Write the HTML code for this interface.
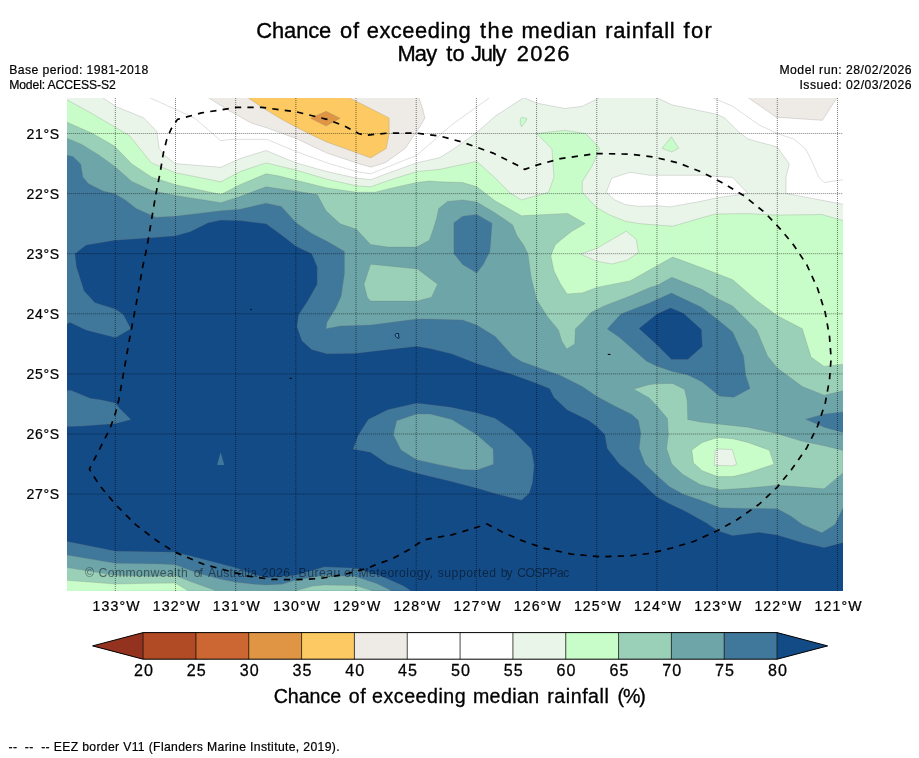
<!DOCTYPE html>
<html><head><meta charset="utf-8"><title>Chance of exceeding the median rainfall</title>
<style>
html,body{margin:0;padding:0;background:#fff;}
body{width:919px;height:758px;overflow:hidden;font-family:"Liberation Sans",sans-serif;}
svg{display:block;}
svg text{font-family:"Liberation Sans",sans-serif;}
</style></head><body>
<svg width="919" height="758" viewBox="0 0 919 758">
<rect width="919" height="758" fill="#fff"/>
<defs><clipPath id="mc"><rect x="67.0" y="98.0" width="776.0" height="493.0"/></clipPath></defs>
<g clip-path="url(#mc)" shape-rendering="geometricPrecision">
<rect x="67.0" y="98.0" width="776.0" height="493.0" fill="#134b87"/>
<polygon points="67.0,98.0 843.0,98.0 843.0,542.5 824.1,547.6 802.3,542.5 777.3,534.9 758.8,532.3 732.7,535.4 717.5,530.6 706.6,523.0 689.2,513.2 682.9,510.0 669.2,503.5 656.7,496.7 638.3,479.5 619.5,464.1 607.4,448.6 604.9,434.6 596.6,426.3 588.6,420.3 580.0,416.0 567.1,409.8 554.0,397.3 549.7,388.6 536.6,383.2 512.7,374.5 476.8,363.6 451.8,353.8 430.0,348.4 416.7,346.2 388.0,349.5 356.4,353.2 327.0,353.8 311.8,349.5 302.0,340.8 297.0,326.6 298.8,314.6 307.5,301.6 317.3,284.2 317.3,266.8 311.8,253.7 296.1,246.3 281.3,234.7 266.1,223.8 240.0,220.6 221.0,220.1 208.0,222.8 190.6,231.5 175.3,235.8 147.0,238.0 114.4,240.2 86.1,245.0 74.8,253.7 76.3,266.8 83.9,290.7 94.8,302.7 115.5,309.2 123.1,314.6 130.7,328.8 115.5,337.5 86.1,329.9 69.8,322.3 67.0,324.0" fill="#40789b"/>
<polygon points="67.0,390.4 70.9,390.4 90.5,398.4 101.3,400.0 115.5,403.3 119.8,408.7 130.7,419.6 115.5,423.5 81.8,426.1 67.0,426.5" fill="#40789b"/>
<polygon points="67.0,541.5 115.5,551.3 175.2,552.3 198.1,558.0 220.9,564.0 236.2,567.9 254.5,574.7 266.6,577.8 295.8,575.3 324.5,567.0 355.6,568.2 382.0,576.5 403.5,586.1 410.7,590.8 67.0,591.0" fill="#40789b"/>
<polygon points="353.2,449.0 358.6,434.8 368.4,419.6 388.0,409.8 416.7,403.3 430.0,404.8 451.8,407.6 476.8,413.1 495.3,418.5 512.7,430.5 531.2,449.0 534.0,465.3 532.3,482.7 529.0,493.6 521.4,500.1 495.3,493.6 476.8,488.1 451.8,481.6 430.0,476.2 416.7,472.9 388.0,464.2 370.6,452.2" fill="#40789b"/>
<polygon points="220.6,452.2 217.1,464.9 224.3,464.9" fill="#40789b"/>
<polygon points="67.0,98.0 843.0,98.0 843.0,507.7 835.0,524.5 821.9,532.8 802.3,524.5 791.5,516.4 777.3,508.8 747.9,508.4 720.0,507.8 700.1,500.1 682.9,494.1 669.2,486.4 656.7,475.2 645.2,464.1 639.2,448.6 640.9,433.2 638.3,420.3 631.5,414.3 614.3,405.7 596.6,396.3 582.3,386.5 560.6,375.6 536.6,366.9 521.4,361.4 512.7,356.0 495.3,336.4 476.8,325.1 462.6,320.1 430.0,319.0 416.7,319.0 370.6,325.1 340.1,326.0 326.0,328.8 327.0,322.3 335.8,308.1 341.2,296.1 344.5,273.3 344.5,251.5 333.6,245.0 327.0,241.3 311.8,233.6 296.1,222.8 281.3,206.4 266.1,203.2 240.0,209.3 221.0,210.8 175.3,216.2 155.8,217.3 136.2,208.6 125.3,199.9 114.4,193.4 103.5,191.2 88.3,183.6 82.9,177.0 80.7,164.0 73.0,156.4 67.0,155.3" fill="#6da5a8"/>
<polygon points="67.0,555.0 115.5,563.3 160.0,564.0 175.2,564.8 198.1,573.2 220.9,579.3 236.2,582.3 254.5,584.3 266.6,584.9 281.9,584.3 295.8,580.1 324.5,575.3 355.6,576.5 377.2,583.7 391.5,590.8 67.0,591.0" fill="#6da5a8"/>
<polygon points="396.7,420.7 416.7,414.1 430.0,414.1 451.8,419.6 476.8,434.8 493.1,449.0 493.5,464.2 476.8,470.1 462.6,469.6 440.0,464.9 416.7,459.8 401.0,450.1 393.4,434.8" fill="#6da5a8"/>
<polygon points="453.9,222.8 462.6,216.2 476.8,214.5 492.0,223.2 490.5,245.0 489.8,251.5 483.3,264.6 476.8,272.9 462.6,264.6 453.9,253.7" fill="#40789b"/>
<polygon points="607.2,329.1 620.9,314.0 650.0,302.7 656.9,299.4 671.5,293.1 701.5,307.2 717.3,319.2 732.7,332.1 743.6,356.0 745.8,375.6 750.1,388.6 733.8,397.3 719.6,396.2 702.2,382.1 687.8,374.9 672.3,371.5 656.9,366.3 646.6,361.2 632.9,349.2 619.2,337.2" fill="#40789b"/>
<polygon points="843.0,412.0 824.1,414.1 805.6,419.2 824.1,427.2 843.0,432.6" fill="#40789b"/>
<polygon points="638.9,328.6 656.9,314.0 670.6,307.7 683.5,313.2 701.5,329.5 702.4,346.6 687.8,359.5 671.5,359.5 656.9,344.9" fill="#134b87"/>
<polygon points="67.0,98.0 843.0,98.0 843.0,390.8 824.1,395.2 802.3,386.5 777.3,368.0 767.5,356.0 756.6,329.9 732.7,305.9 717.3,298.6 702.2,289.6 671.8,277.2 657.5,285.3 650.0,287.4 630.0,296.1 604.1,305.9 591.0,312.5 582.3,322.3 575.4,328.8 574.7,344.0 566.7,349.0 561.7,340.8 558.4,329.9 547.5,316.8 536.6,299.4 531.2,277.6 527.9,253.7 523.6,245.0 517.0,235.8 512.7,224.9 495.3,213.0 476.8,202.1 462.6,199.9 447.4,201.4 438.7,208.6 436.5,218.4 433.0,230.0 429.3,240.2 416.7,247.1 388.0,247.1 370.6,244.5 356.4,229.3 340.1,223.8 326.0,210.8 317.3,194.5 296.1,191.2 266.1,186.8 240.0,196.6 221.0,202.7 175.3,195.5 151.4,190.5 131.8,181.4 114.4,166.2 99.2,155.3 81.8,144.4 67.0,138.3" fill="#9ad0b8"/>
<polygon points="67.0,567.6 115.5,575.3 151.4,576.3 175.2,575.5 190.5,581.6 216.4,590.8 67.0,591.0" fill="#9ad0b8"/>
<polygon points="295.8,590.8 312.5,586.1 324.5,584.9 355.6,585.6 372.4,590.8" fill="#9ad0b8"/>
<polygon points="370.6,264.2 417.4,268.9 437.6,284.2 431.5,297.2 417.4,301.1 370.6,301.1 367.3,297.2 364.0,284.2" fill="#9ad0b8"/>
<polygon points="634.0,388.9 648.6,384.8 656.7,383.8 672.6,383.4 684.6,389.4 687.2,400.6 687.7,419.5 700.1,422.0 717.5,423.9 747.9,427.2 777.3,433.7 802.3,441.3 824.1,445.7 843.0,450.5 843.0,472.9 824.1,488.8 802.3,487.1 777.3,485.3 747.9,488.1 720.0,489.8 700.1,484.6 682.9,474.4 671.8,464.1 666.6,448.6 668.4,434.9 667.5,418.6 656.7,405.7 648.6,397.2" fill="#9ad0b8"/>
<polygon points="67.0,98.0 843.0,98.0 843.0,364.3 824.1,366.4 811.0,357.1 802.3,328.8 777.3,315.7 756.6,300.5 732.7,279.8 702.2,267.9 672.7,257.1 657.5,265.5 630.0,280.9 596.7,287.4 582.3,292.9 567.1,294.0 560.6,284.2 554.0,271.1 550.8,255.9 555.1,245.0 560.6,240.2 571.5,231.5 585.1,223.6 567.6,213.4 521.4,215.8 495.3,201.0 476.8,186.8 462.6,182.5 440.0,181.8 429.3,181.0 416.7,182.5 392.3,187.9 375.0,192.3 356.4,192.3 327.0,187.9 296.1,180.3 279.2,176.0 266.1,173.8 240.0,184.7 221.0,194.5 175.3,184.7 151.4,177.0 131.8,164.0 114.4,146.1 92.6,133.5 67.0,122.2" fill="#c8fcc8"/>
<polygon points="67.0,580.3 115.5,584.0 147.0,583.3 175.2,583.1 188.2,590.8 67.0,591.0" fill="#c8fcc8"/>
<polygon points="691.8,450.1 702.2,442.4 717.5,437.4 732.7,438.7 747.9,442.4 769.3,450.1 774.0,464.2 747.9,472.9 732.7,476.6 717.5,476.6 702.2,470.7 693.5,463.1" fill="#c8fcc8"/>
<polygon points="67.0,98.0 843.0,98.0 843.0,220.6 821.9,214.5 777.3,215.1 747.9,213.6 715.3,214.0 700.0,218.3 672.7,226.2 657.5,225.1 639.2,223.6 625.5,221.3 610.3,215.2 596.6,207.6 582.3,192.3 582.3,181.4 592.1,166.2 599.8,148.3 585.6,133.5 564.9,130.3 536.6,133.5 551.9,148.8 554.0,177.0 548.6,192.3 521.4,199.9 510.5,193.4 493.1,176.0 476.8,161.4 440.0,169.3 416.7,171.6 392.3,179.2 370.6,186.8 356.4,185.8 327.0,179.2 296.1,170.1 266.1,162.9 240.0,171.6 221.0,181.8 175.3,172.7 151.4,162.9 129.6,135.7 92.6,113.9 67.0,99.8" fill="#eaf5ea"/>
<polygon points="715.3,450.5 719.2,449.0 732.3,449.6 736.6,464.2 732.7,465.9 714.2,465.3" fill="#eaf5ea"/>
<polygon points="580.6,254.1 596.6,248.4 626.3,231.2 636.2,239.3 638.5,252.6 627.0,260.2 611.8,264.0 596.6,261.2" fill="#eaf5ea"/>
<polygon points="520.3,118.6 521.9,117.3 526.8,118.3 526.5,120.3 521.6,126.8 520.3,124.5" fill="#c8fcc8"/>
<polygon points="671.3,136.8 662.0,148.3 671.8,152.0 678.7,148.3" fill="#c8fcc8"/>
<polygon points="102.4,97.5 115.5,106.3 143.8,117.9 156.8,131.3 159.0,147.7 164.5,155.3 175.3,163.6 221.0,167.3 240.0,158.6 266.1,150.5 296.1,162.9 327.0,171.6 356.4,178.1 370.6,179.7 392.3,171.6 416.7,162.9 440.0,157.5 453.9,148.8 476.8,132.4 495.3,116.1 521.4,99.1 523.6,97.5" fill="#fff"/>
<polygon points="523.6,97.5 536.6,103.1 564.9,108.5 582.3,106.3 596.7,99.1 599.8,97.5" fill="#fff"/>
<polygon points="606.3,192.3 611.7,178.1 630.0,172.3 650.0,175.3 702.2,175.3 732.7,177.5 747.9,193.4 717.5,197.7 700.0,201.5 669.7,206.9 657.5,205.8 639.2,206.4 625.5,204.6 614.8,200.0" fill="#fff"/>
<polygon points="656.5,97.5 671.8,104.8 717.5,114.4 725.1,118.3 739.2,132.4 747.9,139.0 777.3,147.0 789.3,164.0 786.0,177.0 786.0,193.4 843.0,204.3 843.0,98.0" fill="#fff"/>
<polygon points="208.0,97.5 229.2,110.7 251.4,123.1 268.3,128.3 296.1,138.5 327.0,153.1 356.4,162.9 371.0,167.2 385.7,162.5 405.3,148.3 411.8,138.5 420.0,126.6 424.9,117.9 422.7,109.1 418.9,97.5" fill="#eeebe6"/>
<polygon points="747.9,97.5 776.2,117.2 822.4,120.3 837.0,97.5" fill="#eeebe6"/>
<polygon points="247.5,97.5 263.1,108.1 281.4,119.2 295.8,127.0 310.0,134.2 327.0,142.2 357.5,153.1 370.6,157.9 386.3,148.5 389.2,133.0 389.1,117.9 370.6,108.5 348.8,97.5" fill="#fdc962"/>
<polygon points="310.7,118.3 326.0,111.3 340.1,118.3 326.0,125.9" fill="#e09545"/>
<g fill="none" stroke="#707070" stroke-width="0.6" stroke-opacity="0.38" stroke-linejoin="round">
<polyline points="843.0,542.5 824.1,547.6 802.3,542.5 777.3,534.9 758.8,532.3 732.7,535.4 717.5,530.6 706.6,523.0 689.2,513.2 682.9,510.0 669.2,503.5 656.7,496.7 638.3,479.5 619.5,464.1 607.4,448.6 604.9,434.6 596.6,426.3 588.6,420.3 580.0,416.0 567.1,409.8 554.0,397.3 549.7,388.6 536.6,383.2 512.7,374.5 476.8,363.6 451.8,353.8 430.0,348.4 416.7,346.2 388.0,349.5 356.4,353.2 327.0,353.8 311.8,349.5 302.0,340.8 297.0,326.6 298.8,314.6 307.5,301.6 317.3,284.2 317.3,266.8 311.8,253.7 296.1,246.3 281.3,234.7 266.1,223.8 240.0,220.6 221.0,220.1 208.0,222.8 190.6,231.5 175.3,235.8 147.0,238.0 114.4,240.2 86.1,245.0 74.8,253.7 76.3,266.8 83.9,290.7 94.8,302.7 115.5,309.2 123.1,314.6 130.7,328.8 115.5,337.5 86.1,329.9 69.8,322.3 67.0,324.0"/>
<polyline points="67.0,390.4 70.9,390.4 90.5,398.4 101.3,400.0 115.5,403.3 119.8,408.7 130.7,419.6 115.5,423.5 81.8,426.1 67.0,426.5"/>
<polyline points="67.0,541.5 115.5,551.3 175.2,552.3 198.1,558.0 220.9,564.0 236.2,567.9 254.5,574.7 266.6,577.8 295.8,575.3 324.5,567.0 355.6,568.2 382.0,576.5 403.5,586.1 410.7,590.8"/>
<polygon points="353.2,449.0 358.6,434.8 368.4,419.6 388.0,409.8 416.7,403.3 430.0,404.8 451.8,407.6 476.8,413.1 495.3,418.5 512.7,430.5 531.2,449.0 534.0,465.3 532.3,482.7 529.0,493.6 521.4,500.1 495.3,493.6 476.8,488.1 451.8,481.6 430.0,476.2 416.7,472.9 388.0,464.2 370.6,452.2"/>
<polyline points="843.0,507.7 835.0,524.5 821.9,532.8 802.3,524.5 791.5,516.4 777.3,508.8 747.9,508.4 720.0,507.8 700.1,500.1 682.9,494.1 669.2,486.4 656.7,475.2 645.2,464.1 639.2,448.6 640.9,433.2 638.3,420.3 631.5,414.3 614.3,405.7 596.6,396.3 582.3,386.5 560.6,375.6 536.6,366.9 521.4,361.4 512.7,356.0 495.3,336.4 476.8,325.1 462.6,320.1 430.0,319.0 416.7,319.0 370.6,325.1 340.1,326.0 326.0,328.8 327.0,322.3 335.8,308.1 341.2,296.1 344.5,273.3 344.5,251.5 333.6,245.0 327.0,241.3 311.8,233.6 296.1,222.8 281.3,206.4 266.1,203.2 240.0,209.3 221.0,210.8 175.3,216.2 155.8,217.3 136.2,208.6 125.3,199.9 114.4,193.4 103.5,191.2 88.3,183.6 82.9,177.0 80.7,164.0 73.0,156.4 67.0,155.3"/>
<polyline points="67.0,555.0 115.5,563.3 160.0,564.0 175.2,564.8 198.1,573.2 220.9,579.3 236.2,582.3 254.5,584.3 266.6,584.9 281.9,584.3 295.8,580.1 324.5,575.3 355.6,576.5 377.2,583.7 391.5,590.8"/>
<polygon points="396.7,420.7 416.7,414.1 430.0,414.1 451.8,419.6 476.8,434.8 493.1,449.0 493.5,464.2 476.8,470.1 462.6,469.6 440.0,464.9 416.7,459.8 401.0,450.1 393.4,434.8"/>
<polygon points="453.9,222.8 462.6,216.2 476.8,214.5 492.0,223.2 490.5,245.0 489.8,251.5 483.3,264.6 476.8,272.9 462.6,264.6 453.9,253.7"/>
<polygon points="607.2,329.1 620.9,314.0 650.0,302.7 656.9,299.4 671.5,293.1 701.5,307.2 717.3,319.2 732.7,332.1 743.6,356.0 745.8,375.6 750.1,388.6 733.8,397.3 719.6,396.2 702.2,382.1 687.8,374.9 672.3,371.5 656.9,366.3 646.6,361.2 632.9,349.2 619.2,337.2"/>
<polyline points="843.0,412.0 824.1,414.1 805.6,419.2 824.1,427.2 843.0,432.6"/>
<polygon points="638.9,328.6 656.9,314.0 670.6,307.7 683.5,313.2 701.5,329.5 702.4,346.6 687.8,359.5 671.5,359.5 656.9,344.9"/>
<polyline points="843.0,390.8 824.1,395.2 802.3,386.5 777.3,368.0 767.5,356.0 756.6,329.9 732.7,305.9 717.3,298.6 702.2,289.6 671.8,277.2 657.5,285.3 650.0,287.4 630.0,296.1 604.1,305.9 591.0,312.5 582.3,322.3 575.4,328.8 574.7,344.0 566.7,349.0 561.7,340.8 558.4,329.9 547.5,316.8 536.6,299.4 531.2,277.6 527.9,253.7 523.6,245.0 517.0,235.8 512.7,224.9 495.3,213.0 476.8,202.1 462.6,199.9 447.4,201.4 438.7,208.6 436.5,218.4 433.0,230.0 429.3,240.2 416.7,247.1 388.0,247.1 370.6,244.5 356.4,229.3 340.1,223.8 326.0,210.8 317.3,194.5 296.1,191.2 266.1,186.8 240.0,196.6 221.0,202.7 175.3,195.5 151.4,190.5 131.8,181.4 114.4,166.2 99.2,155.3 81.8,144.4 67.0,138.3"/>
<polyline points="67.0,567.6 115.5,575.3 151.4,576.3 175.2,575.5 190.5,581.6 216.4,590.8"/>
<polyline points="295.8,590.8 312.5,586.1 324.5,584.9 355.6,585.6 372.4,590.8"/>
<polygon points="370.6,264.2 417.4,268.9 437.6,284.2 431.5,297.2 417.4,301.1 370.6,301.1 367.3,297.2 364.0,284.2"/>
<polyline points="634.0,388.9 648.6,384.8 656.7,383.8 672.6,383.4 684.6,389.4 687.2,400.6 687.7,419.5 700.1,422.0 717.5,423.9 747.9,427.2 777.3,433.7 802.3,441.3 824.1,445.7 843.0,450.5 843.0,472.9 824.1,488.8 802.3,487.1 777.3,485.3 747.9,488.1 720.0,489.8 700.1,484.6 682.9,474.4 671.8,464.1 666.6,448.6 668.4,434.9 667.5,418.6 656.7,405.7 648.6,397.2"/>
<polyline points="843.0,364.3 824.1,366.4 811.0,357.1 802.3,328.8 777.3,315.7 756.6,300.5 732.7,279.8 702.2,267.9 672.7,257.1 657.5,265.5 630.0,280.9 596.7,287.4 582.3,292.9 567.1,294.0 560.6,284.2 554.0,271.1 550.8,255.9 555.1,245.0 560.6,240.2 571.5,231.5 585.1,223.6 567.6,213.4 521.4,215.8 495.3,201.0 476.8,186.8 462.6,182.5 440.0,181.8 429.3,181.0 416.7,182.5 392.3,187.9 375.0,192.3 356.4,192.3 327.0,187.9 296.1,180.3 279.2,176.0 266.1,173.8 240.0,184.7 221.0,194.5 175.3,184.7 151.4,177.0 131.8,164.0 114.4,146.1 92.6,133.5 67.0,122.2"/>
<polyline points="67.0,580.3 115.5,584.0 147.0,583.3 175.2,583.1 188.2,590.8"/>
<polygon points="691.8,450.1 702.2,442.4 717.5,437.4 732.7,438.7 747.9,442.4 769.3,450.1 774.0,464.2 747.9,472.9 732.7,476.6 717.5,476.6 702.2,470.7 693.5,463.1"/>
<polyline points="843.0,220.6 821.9,214.5 777.3,215.1 747.9,213.6 715.3,214.0 700.0,218.3 672.7,226.2 657.5,225.1 639.2,223.6 625.5,221.3 610.3,215.2 596.6,207.6 582.3,192.3 582.3,181.4 592.1,166.2 599.8,148.3 585.6,133.5 564.9,130.3 536.6,133.5 551.9,148.8 554.0,177.0 548.6,192.3 521.4,199.9 510.5,193.4 493.1,176.0 476.8,161.4 440.0,169.3 416.7,171.6 392.3,179.2 370.6,186.8 356.4,185.8 327.0,179.2 296.1,170.1 266.1,162.9 240.0,171.6 221.0,181.8 175.3,172.7 151.4,162.9 129.6,135.7 92.6,113.9 67.0,99.8"/>
<polygon points="715.3,450.5 719.2,449.0 732.3,449.6 736.6,464.2 732.7,465.9 714.2,465.3"/>
<polygon points="580.6,254.1 596.6,248.4 626.3,231.2 636.2,239.3 638.5,252.6 627.0,260.2 611.8,264.0 596.6,261.2"/>
<polygon points="520.3,118.6 521.9,117.3 526.8,118.3 526.5,120.3 521.6,126.8 520.3,124.5"/>
<polygon points="671.3,136.8 662.0,148.3 671.8,152.0 678.7,148.3"/>
<polyline points="102.4,97.5 115.5,106.3 143.8,117.9 156.8,131.3 159.0,147.7 164.5,155.3 175.3,163.6 221.0,167.3 240.0,158.6 266.1,150.5 296.1,162.9 327.0,171.6 356.4,178.1 370.6,179.7 392.3,171.6 416.7,162.9 440.0,157.5 453.9,148.8 476.8,132.4 495.3,116.1 521.4,99.1 523.6,97.5"/>
<polyline points="523.6,97.5 536.6,103.1 564.9,108.5 582.3,106.3 596.7,99.1 599.8,97.5"/>
<polygon points="606.3,192.3 611.7,178.1 630.0,172.3 650.0,175.3 702.2,175.3 732.7,177.5 747.9,193.4 717.5,197.7 700.0,201.5 669.7,206.9 657.5,205.8 639.2,206.4 625.5,204.6 614.8,200.0"/>
<polyline points="656.5,97.5 671.8,104.8 717.5,114.4 725.1,118.3 739.2,132.4 747.9,139.0 777.3,147.0 789.3,164.0 786.0,177.0 786.0,193.4 843.0,204.3"/>
<polyline points="149.2,97.5 175.3,109.2 194.9,118.3 220.7,140.7 230.5,139.4 267.0,139.4 296.1,151.5 327.0,162.9 356.4,171.6 370.6,173.8 392.3,165.1 416.7,155.3 429.3,144.4 451.8,124.8 489.8,97.5"/>
<polyline points="712.0,97.5 732.7,106.3 758.8,124.8 777.3,133.5 793.6,139.0 805.6,148.8 813.2,164.0 818.7,177.0 824.1,182.5 843.0,179.7"/>
<polyline points="208.0,97.5 229.2,110.7 251.4,123.1 268.3,128.3 296.1,138.5 327.0,153.1 356.4,162.9 371.0,167.2 385.7,162.5 405.3,148.3 411.8,138.5 420.0,126.6 424.9,117.9 422.7,109.1 418.9,97.5"/>
<polyline points="747.9,97.5 776.2,117.2 822.4,120.3 837.0,97.5"/>
<polyline points="247.5,97.5 263.1,108.1 281.4,119.2 295.8,127.0 310.0,134.2 327.0,142.2 357.5,153.1 370.6,157.9 386.3,148.5 389.2,133.0 389.1,117.9 370.6,108.5 348.8,97.5"/>
<polygon points="310.7,118.3 326.0,111.3 340.1,118.3 326.0,125.9"/>
</g>
<g stroke="#000" stroke-opacity="0.5" stroke-width="1" stroke-dasharray="1 1" fill="none">
<line x1="115.32" y1="98.0" x2="115.32" y2="591.0"/>
<line x1="175.50" y1="98.0" x2="175.50" y2="591.0"/>
<line x1="235.68" y1="98.0" x2="235.68" y2="591.0"/>
<line x1="295.86" y1="98.0" x2="295.86" y2="591.0"/>
<line x1="356.04" y1="98.0" x2="356.04" y2="591.0"/>
<line x1="416.22" y1="98.0" x2="416.22" y2="591.0"/>
<line x1="476.40" y1="98.0" x2="476.40" y2="591.0"/>
<line x1="536.58" y1="98.0" x2="536.58" y2="591.0"/>
<line x1="596.76" y1="98.0" x2="596.76" y2="591.0"/>
<line x1="656.94" y1="98.0" x2="656.94" y2="591.0"/>
<line x1="717.12" y1="98.0" x2="717.12" y2="591.0"/>
<line x1="777.30" y1="98.0" x2="777.30" y2="591.0"/>
<line x1="837.48" y1="98.0" x2="837.48" y2="591.0"/>
</g>
<g stroke="#000" stroke-opacity="0.38" stroke-width="1" stroke-dasharray="1.3 0.7" fill="none">
<line x1="67.0" y1="133.50" x2="843.0" y2="133.50"/>
<line x1="67.0" y1="193.60" x2="843.0" y2="193.60"/>
<line x1="67.0" y1="253.70" x2="843.0" y2="253.70"/>
<line x1="67.0" y1="313.80" x2="843.0" y2="313.80"/>
<line x1="67.0" y1="373.90" x2="843.0" y2="373.90"/>
<line x1="67.0" y1="434.00" x2="843.0" y2="434.00"/>
<line x1="67.0" y1="494.10" x2="843.0" y2="494.10"/>
</g>
<rect x="250.3" y="308.9" width="1.4" height="1" fill="#000"/>
<rect x="289.6" y="377.8" width="2.2" height="1" fill="#000"/>
<rect x="607.8" y="353.9" width="2.6" height="1.1" fill="#000"/>
<path d="M395.2,334.4 L396.4,333.5 L398.6,333.5 L398.7,337 L399.3,337.8 L398.4,338.3 L396.5,337.3 L395.4,336.2 Z" fill="#4a8fba" stroke="#04162e" stroke-width="0.9" stroke-linejoin="round"/>
<polygon points="89.4,469.2 101.3,445.7 110.1,428.3 115.5,413.1 118.8,400.0 123.1,375.6 129.6,338.6 136.2,303.8 142.7,266.8 147.0,247.0 151.4,220.6 155.8,194.5 160.1,172.7 163.4,153.1 166.6,140.0 171.0,129.2 177.5,119.4 201.5,112.9 236.3,107.4 261.8,107.4 296.1,111.8 327.0,119.4 344.5,125.9 358.6,133.5 365.1,135.3 388.0,133.1 416.7,133.1 440.0,136.1 462.6,142.2 493.1,153.1 517.0,165.1 524.7,169.4 536.6,165.1 560.6,158.6 596.7,153.5 630.0,154.2 653.3,157.0 678.3,162.9 702.2,172.3 721.8,182.5 743.6,195.5 765.3,213.0 780.6,229.3 793.6,245.0 806.7,264.6 817.6,288.5 825.2,312.5 829.5,336.4 831.1,358.2 829.5,379.9 825.2,403.3 817.6,426.1 806.7,447.9 791.5,469.6 777.3,487.1 758.8,504.5 737.0,519.7 717.5,530.6 693.5,541.5 671.8,548.0 650.0,553.4 630.0,555.8 599.8,556.7 571.5,554.1 543.2,548.0 521.4,540.4 501.8,531.7 487.0,524.0 476.8,527.3 451.8,534.9 430.0,538.6 422.8,540.4 409.8,549.1 392.3,558.9 374.9,565.0 367.6,568.2 343.6,574.6 319.7,578.5 295.8,579.7 271.8,579.4 247.9,576.1 223.9,569.8 203.6,564.3 175.3,552.3 157.9,541.5 136.2,525.1 115.5,504.5 99.2,484.9" fill="none" stroke="#000" stroke-width="1.7" stroke-dasharray="6.3 6.2" stroke-dashoffset="3" stroke-linejoin="round"/>
</g>
<g>
<rect x="143.10" y="632.6" width="53.13" height="26.6" fill="#b04b26"/>
<rect x="195.93" y="632.6" width="53.13" height="26.6" fill="#cc6633"/>
<rect x="248.76" y="632.6" width="53.13" height="26.6" fill="#e09545"/>
<rect x="301.59" y="632.6" width="53.13" height="26.6" fill="#fdc962"/>
<rect x="354.42" y="632.6" width="53.13" height="26.6" fill="#eeebe6"/>
<rect x="407.25" y="632.6" width="53.13" height="26.6" fill="#ffffff"/>
<rect x="460.08" y="632.6" width="53.13" height="26.6" fill="#ffffff"/>
<rect x="512.91" y="632.6" width="53.13" height="26.6" fill="#eaf5ea"/>
<rect x="565.74" y="632.6" width="53.13" height="26.6" fill="#c8fcc8"/>
<rect x="618.57" y="632.6" width="53.13" height="26.6" fill="#9ad0b8"/>
<rect x="671.40" y="632.6" width="53.13" height="26.6" fill="#6da5a8"/>
<rect x="724.23" y="632.6" width="53.13" height="26.6" fill="#40789b"/>
<polygon points="143.1,632.6 92.6,645.9 143.1,659.2" fill="#93331f"/>
<polygon points="777.1,632.6 827.6,645.9 777.1,659.2" fill="#134b87"/>
<polygon points="143.1,632.6 777.1,632.6 827.6,645.9 777.1,659.2 143.1,659.2 92.6,645.9" fill="none" stroke="#000" stroke-width="1"/>
<line x1="143.10" y1="632.6" x2="143.10" y2="659.2" stroke="#000" stroke-width="0.8" stroke-opacity="0.9"/>
<line x1="195.93" y1="632.6" x2="195.93" y2="659.2" stroke="#000" stroke-width="0.8" stroke-opacity="0.9"/>
<line x1="248.76" y1="632.6" x2="248.76" y2="659.2" stroke="#000" stroke-width="0.8" stroke-opacity="0.9"/>
<line x1="301.59" y1="632.6" x2="301.59" y2="659.2" stroke="#000" stroke-width="0.8" stroke-opacity="0.9"/>
<line x1="354.42" y1="632.6" x2="354.42" y2="659.2" stroke="#000" stroke-width="0.8" stroke-opacity="0.9"/>
<line x1="407.25" y1="632.6" x2="407.25" y2="659.2" stroke="#000" stroke-width="0.8" stroke-opacity="0.9"/>
<line x1="460.08" y1="632.6" x2="460.08" y2="659.2" stroke="#000" stroke-width="0.8" stroke-opacity="0.9"/>
<line x1="512.91" y1="632.6" x2="512.91" y2="659.2" stroke="#000" stroke-width="0.8" stroke-opacity="0.9"/>
<line x1="565.74" y1="632.6" x2="565.74" y2="659.2" stroke="#000" stroke-width="0.8" stroke-opacity="0.9"/>
<line x1="618.57" y1="632.6" x2="618.57" y2="659.2" stroke="#000" stroke-width="0.8" stroke-opacity="0.9"/>
<line x1="671.40" y1="632.6" x2="671.40" y2="659.2" stroke="#000" stroke-width="0.8" stroke-opacity="0.9"/>
<line x1="724.23" y1="632.6" x2="724.23" y2="659.2" stroke="#000" stroke-width="0.8" stroke-opacity="0.9"/>
<line x1="777.06" y1="632.6" x2="777.06" y2="659.2" stroke="#000" stroke-width="0.8" stroke-opacity="0.9"/>
</g>
<g style="filter:grayscale(1)">
<text x="256.2" y="37.8" font-size="21.90" text-anchor="start" textLength="75.1" lengthAdjust="spacing" fill="#000" stroke="#000" stroke-width="0.37">Chance</text>
<text x="340.0" y="37.8" font-size="21.90" text-anchor="start" textLength="19.1" lengthAdjust="spacing" fill="#000" stroke="#000" stroke-width="0.37">of</text>
<text x="366.7" y="37.8" font-size="21.90" text-anchor="start" textLength="104.0" lengthAdjust="spacing" fill="#000" stroke="#000" stroke-width="0.37">exceeding</text>
<text x="479.9" y="37.8" font-size="21.90" text-anchor="start" textLength="33.5" lengthAdjust="spacing" fill="#000" stroke="#000" stroke-width="0.37">the</text>
<text x="521.5" y="37.8" font-size="21.90" text-anchor="start" textLength="74.9" lengthAdjust="spacing" fill="#000" stroke="#000" stroke-width="0.37">median</text>
<text x="605.2" y="37.8" font-size="21.90" text-anchor="start" textLength="69.5" lengthAdjust="spacing" fill="#000" stroke="#000" stroke-width="0.37">rainfall</text>
<text x="683.6" y="37.8" font-size="21.90" text-anchor="start" textLength="28.2" lengthAdjust="spacing" fill="#000" stroke="#000" stroke-width="0.37">for</text>
<text x="397.5" y="61.2" font-size="21.90" text-anchor="start" textLength="39.6" lengthAdjust="spacing" fill="#000" stroke="#000" stroke-width="0.37">May</text>
<text x="446.3" y="61.2" font-size="21.90" text-anchor="start" textLength="18.5" lengthAdjust="spacing" fill="#000" stroke="#000" stroke-width="0.37">to</text>
<text x="471.1" y="61.2" font-size="21.90" text-anchor="start" textLength="35.4" lengthAdjust="spacing" fill="#000" stroke="#000" stroke-width="0.37">July</text>
<text x="516.7" y="61.2" font-size="21.90" text-anchor="start" textLength="52.8" lengthAdjust="spacing" fill="#000" stroke="#000" stroke-width="0.37">2026</text>
<text x="9.2" y="74.0" font-size="12.20" text-anchor="start" textLength="139.0" lengthAdjust="spacing" fill="#000" stroke="#000" stroke-width="0.21">Base period: 1981-2018</text>
<text x="9.2" y="88.8" font-size="12.20" text-anchor="start" textLength="106.5" lengthAdjust="spacing" fill="#000" stroke="#000" stroke-width="0.21">Model: ACCESS-S2</text>
<text x="779.4" y="74.0" font-size="12.20" text-anchor="start" textLength="132.2" lengthAdjust="spacing" fill="#000" stroke="#000" stroke-width="0.21">Model run: 28/02/2026</text>
<text x="799.4" y="88.8" font-size="12.20" text-anchor="start" textLength="112.2" lengthAdjust="spacing" fill="#000" stroke="#000" stroke-width="0.21">Issued: 02/03/2026</text>
<text x="26.6" y="138.8" font-size="14.10" text-anchor="start" textLength="32.5" lengthAdjust="spacing" fill="#000" stroke="#000" stroke-width="0.24">21°S</text>
<text x="26.6" y="198.9" font-size="14.10" text-anchor="start" textLength="32.5" lengthAdjust="spacing" fill="#000" stroke="#000" stroke-width="0.24">22°S</text>
<text x="26.6" y="259.0" font-size="14.10" text-anchor="start" textLength="32.5" lengthAdjust="spacing" fill="#000" stroke="#000" stroke-width="0.24">23°S</text>
<text x="26.6" y="319.1" font-size="14.10" text-anchor="start" textLength="32.5" lengthAdjust="spacing" fill="#000" stroke="#000" stroke-width="0.24">24°S</text>
<text x="26.6" y="379.2" font-size="14.10" text-anchor="start" textLength="32.5" lengthAdjust="spacing" fill="#000" stroke="#000" stroke-width="0.24">25°S</text>
<text x="26.6" y="439.3" font-size="14.10" text-anchor="start" textLength="32.5" lengthAdjust="spacing" fill="#000" stroke="#000" stroke-width="0.24">26°S</text>
<text x="26.6" y="499.4" font-size="14.10" text-anchor="start" textLength="32.5" lengthAdjust="spacing" fill="#000" stroke="#000" stroke-width="0.24">27°S</text>
<text x="92.5" y="611.0" font-size="14.10" text-anchor="start" textLength="47.0" lengthAdjust="spacing" fill="#000" stroke="#000" stroke-width="0.24">133°W</text>
<text x="152.7" y="611.0" font-size="14.10" text-anchor="start" textLength="47.0" lengthAdjust="spacing" fill="#000" stroke="#000" stroke-width="0.24">132°W</text>
<text x="212.8" y="611.0" font-size="14.10" text-anchor="start" textLength="47.0" lengthAdjust="spacing" fill="#000" stroke="#000" stroke-width="0.24">131°W</text>
<text x="273.0" y="611.0" font-size="14.10" text-anchor="start" textLength="47.0" lengthAdjust="spacing" fill="#000" stroke="#000" stroke-width="0.24">130°W</text>
<text x="333.2" y="611.0" font-size="14.10" text-anchor="start" textLength="47.0" lengthAdjust="spacing" fill="#000" stroke="#000" stroke-width="0.24">129°W</text>
<text x="393.4" y="611.0" font-size="14.10" text-anchor="start" textLength="47.0" lengthAdjust="spacing" fill="#000" stroke="#000" stroke-width="0.24">128°W</text>
<text x="453.5" y="611.0" font-size="14.10" text-anchor="start" textLength="47.0" lengthAdjust="spacing" fill="#000" stroke="#000" stroke-width="0.24">127°W</text>
<text x="513.7" y="611.0" font-size="14.10" text-anchor="start" textLength="47.0" lengthAdjust="spacing" fill="#000" stroke="#000" stroke-width="0.24">126°W</text>
<text x="573.9" y="611.0" font-size="14.10" text-anchor="start" textLength="47.0" lengthAdjust="spacing" fill="#000" stroke="#000" stroke-width="0.24">125°W</text>
<text x="634.0" y="611.0" font-size="14.10" text-anchor="start" textLength="47.0" lengthAdjust="spacing" fill="#000" stroke="#000" stroke-width="0.24">124°W</text>
<text x="694.2" y="611.0" font-size="14.10" text-anchor="start" textLength="47.0" lengthAdjust="spacing" fill="#000" stroke="#000" stroke-width="0.24">123°W</text>
<text x="754.4" y="611.0" font-size="14.10" text-anchor="start" textLength="47.0" lengthAdjust="spacing" fill="#000" stroke="#000" stroke-width="0.24">122°W</text>
<text x="814.5" y="611.0" font-size="14.10" text-anchor="start" textLength="47.0" lengthAdjust="spacing" fill="#000" stroke="#000" stroke-width="0.24">121°W</text>
<text x="134.0" y="675.8" font-size="16.10" text-anchor="start" textLength="18.9" lengthAdjust="spacing" fill="#000" stroke="#000" stroke-width="0.27">20</text>
<text x="186.8" y="675.8" font-size="16.10" text-anchor="start" textLength="18.9" lengthAdjust="spacing" fill="#000" stroke="#000" stroke-width="0.27">25</text>
<text x="239.7" y="675.8" font-size="16.10" text-anchor="start" textLength="18.9" lengthAdjust="spacing" fill="#000" stroke="#000" stroke-width="0.27">30</text>
<text x="292.5" y="675.8" font-size="16.10" text-anchor="start" textLength="18.9" lengthAdjust="spacing" fill="#000" stroke="#000" stroke-width="0.27">35</text>
<text x="345.3" y="675.8" font-size="16.10" text-anchor="start" textLength="18.9" lengthAdjust="spacing" fill="#000" stroke="#000" stroke-width="0.27">40</text>
<text x="398.1" y="675.8" font-size="16.10" text-anchor="start" textLength="18.9" lengthAdjust="spacing" fill="#000" stroke="#000" stroke-width="0.27">45</text>
<text x="451.0" y="675.8" font-size="16.10" text-anchor="start" textLength="18.9" lengthAdjust="spacing" fill="#000" stroke="#000" stroke-width="0.27">50</text>
<text x="503.8" y="675.8" font-size="16.10" text-anchor="start" textLength="18.9" lengthAdjust="spacing" fill="#000" stroke="#000" stroke-width="0.27">55</text>
<text x="556.6" y="675.8" font-size="16.10" text-anchor="start" textLength="18.9" lengthAdjust="spacing" fill="#000" stroke="#000" stroke-width="0.27">60</text>
<text x="609.5" y="675.8" font-size="16.10" text-anchor="start" textLength="18.9" lengthAdjust="spacing" fill="#000" stroke="#000" stroke-width="0.27">65</text>
<text x="662.3" y="675.8" font-size="16.10" text-anchor="start" textLength="18.9" lengthAdjust="spacing" fill="#000" stroke="#000" stroke-width="0.27">70</text>
<text x="715.1" y="675.8" font-size="16.10" text-anchor="start" textLength="18.9" lengthAdjust="spacing" fill="#000" stroke="#000" stroke-width="0.27">75</text>
<text x="768.0" y="675.8" font-size="16.10" text-anchor="start" textLength="18.9" lengthAdjust="spacing" fill="#000" stroke="#000" stroke-width="0.27">80</text>
<text x="273.7" y="703.2" font-size="19.60" text-anchor="start" textLength="67.4" lengthAdjust="spacing" fill="#000" stroke="#000" stroke-width="0.33">Chance</text>
<text x="348.8" y="703.2" font-size="19.60" text-anchor="start" textLength="16.8" lengthAdjust="spacing" fill="#000" stroke="#000" stroke-width="0.33">of</text>
<text x="372.1" y="703.2" font-size="19.60" text-anchor="start" textLength="93.5" lengthAdjust="spacing" fill="#000" stroke="#000" stroke-width="0.33">exceeding</text>
<text x="472.9" y="703.2" font-size="19.60" text-anchor="start" textLength="66.2" lengthAdjust="spacing" fill="#000" stroke="#000" stroke-width="0.33">median</text>
<text x="547.3" y="703.2" font-size="19.60" text-anchor="start" textLength="61.5" lengthAdjust="spacing" fill="#000" stroke="#000" stroke-width="0.33">rainfall</text>
<text x="617.6" y="703.2" font-size="19.60" text-anchor="start" textLength="28.1" lengthAdjust="spacing" fill="#000" stroke="#000" stroke-width="0.33">(%)</text>
<text x="8.6" y="750.6" font-size="12.20" text-anchor="start" textLength="331.0" lengthAdjust="spacing" fill="#000" stroke="#000" stroke-width="0.21" xml:space="preserve">--&#160;&#160;--&#160;&#160;-- EEZ border V11 (Flanders Marine Institute, 2019).</text>
<text x="84.9" y="577.4" font-size="12.20" text-anchor="start" fill="#000" fill-opacity="0.5">©</text>
<text x="98.5" y="577.4" font-size="12.20" text-anchor="start" textLength="89.3" lengthAdjust="spacing" fill="#000" fill-opacity="0.5">Commonwealth</text>
<text x="193.7" y="577.4" font-size="12.20" text-anchor="start" textLength="9.2" lengthAdjust="spacing" fill="#000" fill-opacity="0.5">of</text>
<text x="207.9" y="577.4" font-size="12.20" text-anchor="start" textLength="49.1" lengthAdjust="spacing" fill="#000" fill-opacity="0.5">Australia</text>
<text x="261.7" y="577.4" font-size="12.20" text-anchor="start" textLength="32.2" lengthAdjust="spacing" fill="#000" fill-opacity="0.5">2026,</text>
<text x="298.6" y="577.4" font-size="12.20" text-anchor="start" textLength="41.8" lengthAdjust="spacing" fill="#000" fill-opacity="0.5">Bureau</text>
<text x="343.9" y="577.4" font-size="12.20" text-anchor="start" textLength="10.5" lengthAdjust="spacing" fill="#000" fill-opacity="0.5">of</text>
<text x="358.5" y="577.4" font-size="12.20" text-anchor="start" textLength="74.5" lengthAdjust="spacing" fill="#000" fill-opacity="0.5">Meteorology,</text>
<text x="437.7" y="577.4" font-size="12.20" text-anchor="start" textLength="58.4" lengthAdjust="spacing" fill="#000" fill-opacity="0.5">supported</text>
<text x="500.8" y="577.4" font-size="12.20" text-anchor="start" textLength="11.9" lengthAdjust="spacing" fill="#000" fill-opacity="0.5">by</text>
<text x="517.2" y="577.4" font-size="12.20" text-anchor="start" textLength="52.2" lengthAdjust="spacing" fill="#000" fill-opacity="0.5">COSPPac</text>
</g>
</svg>
</body></html>
